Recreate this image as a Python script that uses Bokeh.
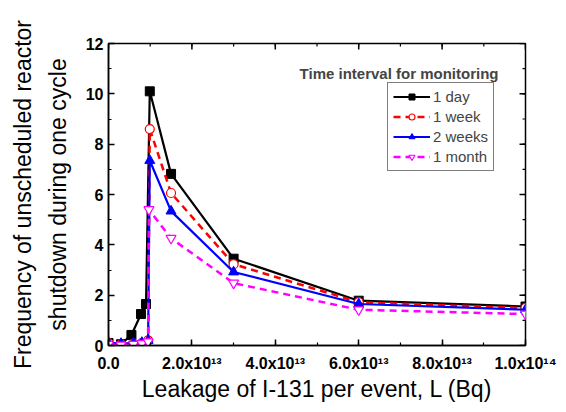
import math
from bokeh.plotting import figure
from bokeh.models import Label, FixedTicker, Legend, LegendItem
from bokeh.embed import file_html
from bokeh.resources import INLINE

# Data (x in Bq, y = frequency)
x_day = [0, 0.3e13, 0.55e13, 0.78e13, 0.9e13, 0.99e13, 1.5e13, 3.0e13, 6.0e13, 1.0e14]
y_day = [0.1, 0.05, 0.42, 1.25, 1.65, 10.1, 6.82, 3.45, 1.78, 1.55]

x_week = [0, 0.3e13, 0.6e13, 0.8e13, 0.95e13, 0.99e13, 1.5e13, 3.0e13, 6.0e13, 1.0e14]
y_week = [0.1, 0.05, 0.08, 0.1, 0.2, 8.6, 6.06, 3.23, 1.72, 1.49]

x_2weeks = [0, 0.3e13, 0.6e13, 0.8e13, 0.95e13, 0.99e13, 1.5e13, 3.0e13, 6.0e13, 1.0e14]
y_2weeks = [0.12, 0.08, 0.1, 0.12, 0.2, 7.35, 5.34, 2.92, 1.65, 1.42]

x_month = [0, 0.3e13, 0.6e13, 0.8e13, 0.95e13, 0.97e13, 1.5e13, 3.0e13, 6.0e13, 1.0e14]
y_month = [0.05, 0.02, 0.05, 0.08, 0.15, 5.4, 4.26, 2.48, 1.42, 1.25]

x_ticks = [0, 2e13, 4e13, 6e13, 8e13, 1e14]
x_minor = [i * 1e13 for i in range(11)]
x_tick_labels = ["0.0", "2.0x10¹³", "4.0x10¹³", "6.0x10¹³", "8.0x10¹³", "1.0x10¹⁴"]
y_ticks = [0, 2, 4, 6, 8, 10, 12]
y_minor = list(range(13))

FONT = "Liberation Sans"
X0, X1, Y0, Y1 = 0, 1e14, 0, 12

p = figure(width=558, height=404, x_range=(X0, X1), y_range=(Y0, Y1),
           output_backend="svg", toolbar_location=None,
           min_border_left=108, min_border_right=33, min_border_top=43, min_border_bottom=57)
p.grid.visible = False
p.outline_line_color = "black"
p.outline_line_width = 1.5

for ax in p.axis:
    ax.axis_line_width = 1.5
    ax.major_tick_in = 6
    ax.major_tick_out = 0
    ax.minor_tick_in = 3
    ax.minor_tick_out = 0
    ax.major_tick_line_width = 1.5
    ax.minor_tick_line_width = 1.2
    ax.major_label_text_font = FONT
    ax.major_label_text_font_style = "bold"
    ax.major_label_text_font_size = "16px"
    ax.major_label_text_color = "black"
    ax.axis_label_text_font = FONT
    ax.axis_label_text_font_style = "normal"
    ax.axis_label_text_color = "black"

p.xaxis.ticker = FixedTicker(ticks=x_ticks, minor_ticks=x_minor)
p.xaxis.major_label_overrides = {t: l for t, l in zip(x_ticks, x_tick_labels)}
p.xaxis.axis_label = "Leakage of I-131 per event, L (Bq)"
p.xaxis.axis_label_text_font_size = "23px"
p.xaxis.major_label_standoff = 9
p.xaxis.axis_label_standoff = 1

p.yaxis.ticker = FixedTicker(ticks=y_ticks, minor_ticks=y_minor)
p.yaxis.axis_label = "Frequency of unscheduled reactor\nshutdown during one cycle"
p.yaxis.axis_label_text_font_size = "23px"
p.yaxis.axis_label_text_line_height = 1.35
p.yaxis.axis_label_standoff = 12

# inward ticks on top and right edges
p.ray(x=x_ticks, y=[Y1] * len(x_ticks), length=6, length_units="screen",
      angle=-math.pi / 2, line_color="black", line_width=1.5)
p.ray(x=x_minor, y=[Y1] * len(x_minor), length=3, length_units="screen",
      angle=-math.pi / 2, line_color="black", line_width=1.2)
p.ray(x=[X1] * len(y_ticks), y=y_ticks, length=6, length_units="screen",
      angle=math.pi, line_color="black", line_width=1.5)
p.ray(x=[X1] * len(y_minor), y=y_minor, length=3, length_units="screen",
      angle=math.pi, line_color="black", line_width=1.2)

r1l = p.line(x_day, y_day, line_color="black", line_width=2.2)
r1m = p.scatter(x_day, y_day, marker="square", size=9, fill_color="black", line_color="black")
r2l = p.line(x_week, y_week, line_color="red", line_width=2.5, line_dash="7 5")
r2m = p.scatter(x_week, y_week, marker="circle", size=9, fill_color="white", line_color="red", line_width=1.2)
r3l = p.line(x_2weeks, y_2weeks, line_color="blue", line_width=2.2)
r3m = p.scatter(x_2weeks, y_2weeks, marker="triangle", size=10, fill_color="blue", line_color="blue")
r4l = p.line(x_month, y_month, line_color="magenta", line_width=2.5, line_dash="7 5")
r4m = p.scatter(x_month, y_month, marker="inverted_triangle", size=10, fill_color="white",
                line_color="magenta", line_width=1.2)

legend = Legend(items=[
    LegendItem(label="1 day", renderers=[r1l, r1m]),
    LegendItem(label="1 week", renderers=[r2l, r2m]),
    LegendItem(label="2 weeks", renderers=[r3l, r3m]),
    LegendItem(label="1 month", renderers=[r4l, r4m]),
], location=(279, 174))
legend.label_text_font = FONT
legend.label_text_font_size = "15px"
legend.label_height = 15
legend.glyph_height = 15
legend.glyph_width = 37
legend.spacing = 3
legend.padding = 5
legend.margin = 0
legend.label_standoff = 3
legend.border_line_color = "black"
legend.border_line_width = 1.2
legend.background_fill_alpha = 1
p.add_layout(legend, "center")

p.add_layout(Label(x=390, y=304 - 32, x_units="screen", y_units="screen",
                   text="Time interval for monitoring", text_font=FONT,
                   text_font_style="bold", text_font_size="15px", text_align="right",
                   text_baseline="middle"))

open("out.html", "w").write(file_html(p, INLINE))
